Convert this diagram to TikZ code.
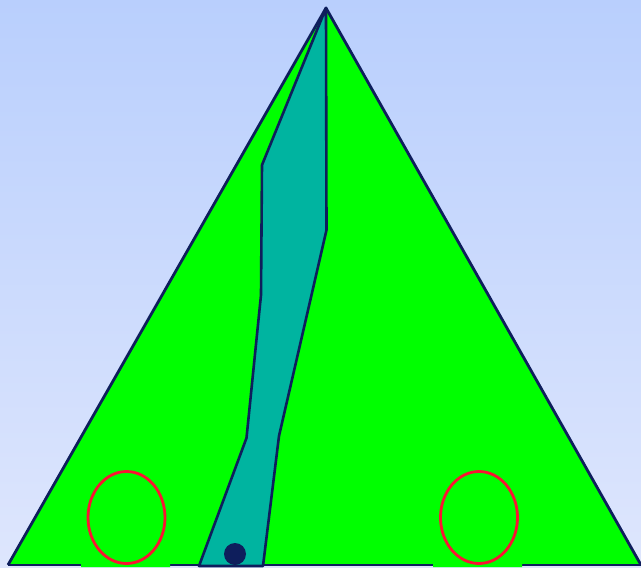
\documentclass[tikz,border=0pt]{standalone}
\usepackage{xcolor}
\usepackage{tikz}
\definecolor{skytop}{RGB}{185,207,253}
\definecolor{skybot}{RGB}{222,230,253}
\definecolor{leaf}{RGB}{0,255,0}
\definecolor{teal2}{RGB}{0,180,160}
\definecolor{navy2}{RGB}{14,30,92}
\definecolor{ringred}{RGB}{250,20,50}

\begin{document}
\begin{tikzpicture}[x=1pt,y=-1pt,line join=round,
  edge/.style={navy2,line width=2.8pt},
  redring/.style={ringred,line width=2.8pt}]
\useasboundingbox(0,0)rectangle(641,568);
\shade[top color=skytop,bottom color=skybot](0,0)rectangle(641,568);
% triangle
\fill[leaf](326,8)--(8,565)--(641,565)--cycle;
\draw[edge](8,565)--(641,565);
\draw[edge](8,565)--(326,8)--(641,565);
% strip
\filldraw[fill=teal2,draw=navy2,line width=2.6pt](326,8)--(262,165)--(261,295)--(246.5,438)--(199,566)--(263,566)--(279,436)--(326.5,230)--cycle;
\fill[navy2](235,554)circle[radius=11];
% rings
\fill[leaf](81,560)rectangle(170,567)
(433,560)rectangle(522,567);
\draw[redring](126.5,517.5)ellipse[x radius=38.5,y radius=46];
\draw[redring](479,517.5)ellipse[x radius=38.5,y radius=46];
\end{tikzpicture}
\end{document}
